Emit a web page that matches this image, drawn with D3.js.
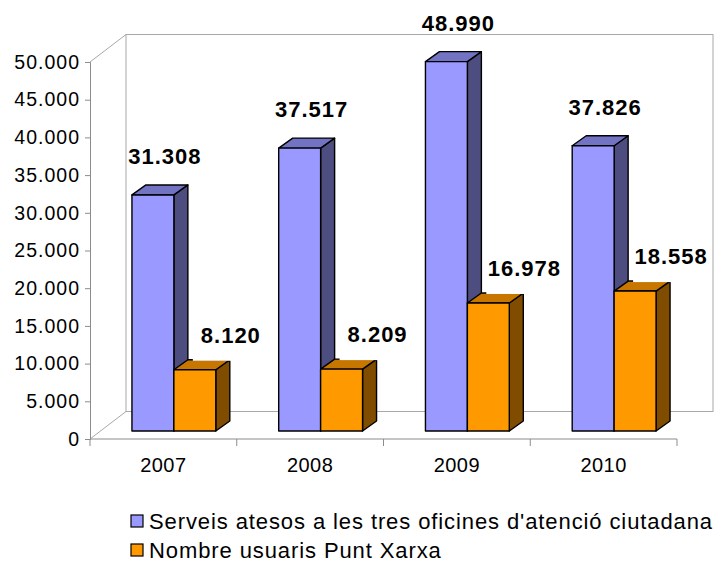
<!DOCTYPE html>
<html>
<head>
<meta charset="utf-8">
<script src="https://cdn.jsdelivr.net/npm/d3@7"></script>
<style>
  html, body { margin: 0; padding: 0; background: #fff; }
  svg { display: block; font-family: "Liberation Sans", Arial, sans-serif; }
</style>
</head>
<body>
<svg id="chart" width="716" height="565"></svg>
<script>
// ---- data ----
const categories = ["2007", "2008", "2009", "2010"];
const serveis = [31308, 37517, 48990, 37826];
const usuaris = [8120, 8209, 16978, 18558];
const seriesNames = [
  "Serveis atesos a les tres oficines d'atenció ciutadana",
  "Nombre usuaris Punt Xarxa"
];
const yTickValues = [0, 5000, 10000, 15000, 20000, 25000, 30000, 35000, 40000, 45000, 50000];

// ---- styling / layout ----
const colors = [
  { front: "#9999FF", top: "#7373C4", side: "#4D4D80" },
  { front: "#FF9900", top: "#C77700", side: "#7F4C00" }
];
const plot = { left: 90, right: 677, top: 62, bottom: 439 };
const depth = { dx: 36, dy: -27.5 };       // back wall offset
const barOff = { dx: 10.5, dy: -8 };       // bar placement depth
const barDepth = { dx: 14, dy: -10 };      // bar thickness in depth
const axisColor = "#8c8c8c";
const wallColor = "#a8a8a8";

const locale = d3.formatLocale({ decimal: ",", thousands: ".", grouping: [3], currency: ["", "€"] });
const fmt = locale.format(",d");

const svg = d3.select("#chart");

const x = d3.scaleBand().domain(categories).range([plot.left, plot.right]).paddingInner(0).paddingOuter(0);
const y = d3.scaleLinear().domain([0, 50000]).range([plot.bottom, plot.top]);
// Each category: 2 bars + gap of 150% of bar width
const bw = x.bandwidth() / 3.5;

// ---- walls ----
const walls = svg.append("g").attr("fill", "none").attr("stroke", wallColor).attr("stroke-width", 1);
walls.append("rect")
  .attr("x", plot.left + depth.dx).attr("y", plot.top + depth.dy)
  .attr("width", plot.right - plot.left).attr("height", plot.bottom - plot.top)
  .attr("fill", "#fff");
walls.append("line")
  .attr("x1", plot.left).attr("y1", plot.top)
  .attr("x2", plot.left + depth.dx).attr("y2", plot.top + depth.dy);
walls.append("line")
  .attr("x1", plot.left).attr("y1", plot.bottom)
  .attr("x2", plot.left + depth.dx).attr("y2", plot.bottom + depth.dy);

// ---- axes ----
const yAxis = d3.axisLeft(y).tickValues(yTickValues).tickFormat(fmt).tickSize(5).tickPadding(5);
const gy = svg.append("g").attr("transform", `translate(${plot.left},0)`).call(yAxis);
gy.select(".domain").attr("stroke", axisColor);
gy.selectAll(".tick line").attr("stroke", axisColor);
gy.selectAll(".tick text")
  .attr("fill", "#000").attr("font-size", "19.5px").attr("letter-spacing", "1px")
  .attr("font-family", "'Liberation Sans', Arial, sans-serif");

const xAxis = d3.axisBottom(x).tickSize(0).tickPadding(19);
const gx = svg.append("g").attr("transform", `translate(0,${plot.bottom})`).call(xAxis);
gx.select(".domain").attr("stroke", axisColor).attr("d", `M${plot.left},0H${plot.right}`);
gx.selectAll(".tick text")
  .attr("fill", "#000").attr("font-size", "20px").attr("letter-spacing", "0.5px")
  .attr("font-family", "'Liberation Sans', Arial, sans-serif");
// category separator ticks
const sepPos = categories.map(c => x(c)).concat([plot.right]);
gx.selectAll("line.sep").data(sepPos).enter().append("line")
  .attr("class", "sep")
  .attr("x1", d => d).attr("x2", d => d)
  .attr("y1", 0).attr("y2", 7)
  .attr("stroke", axisColor);

// ---- bars ----
const series = [serveis, usuaris];
const bars = [];
categories.forEach((cat, i) => {
  series.forEach((vals, s) => {
    const x0 = x(cat) + (x.bandwidth() - 2 * bw) / 2 + s * bw + barOff.dx;
    const yb = y(0) + barOff.dy;
    const yt = y(vals[i]) + barOff.dy;
    bars.push({ cat, s, v: vals[i], x0, yb, yt });
  });
});

const gb = svg.append("g").attr("stroke", "#000").attr("stroke-width", 1.4).attr("stroke-linejoin", "round");
bars.forEach(b => {
  const c = colors[b.s];
  const g = gb.append("g");
  const ddx = barDepth.dx, ddy = barDepth.dy;
  // side
  g.append("path")
    .attr("d", `M${b.x0 + bw},${b.yt}L${b.x0 + bw + ddx},${b.yt + ddy}L${b.x0 + bw + ddx},${b.yb + ddy}L${b.x0 + bw},${b.yb}Z`)
    .attr("fill", c.side);
  // top
  g.append("path")
    .attr("d", `M${b.x0},${b.yt}L${b.x0 + ddx},${b.yt + ddy}L${b.x0 + bw + ddx},${b.yt + ddy}L${b.x0 + bw},${b.yt}Z`)
    .attr("fill", c.top);
  // front
  g.append("rect")
    .attr("x", b.x0).attr("y", b.yt)
    .attr("width", bw).attr("height", b.yb - b.yt)
    .attr("fill", c.front);
});

// ---- data labels ----
const gl = svg.append("g")
  .attr("font-size", "22px").attr("font-weight", "bold").attr("letter-spacing", "1px")
  .attr("text-anchor", "middle").attr("fill", "#000");
bars.forEach(b => {
  const cx = b.x0 + bw / 2 + (b.s === 0 ? 12 : 36);
  const cy = b.yt + (b.s === 0 ? -39 : -35);
  if (b.s === 1) {
    gl.append("rect")
      .attr("x", cx - 38).attr("y", cy - 19)
      .attr("width", 76).attr("height", 45)
      .attr("fill", "#fff");
  }
  gl.append("text")
    .attr("x", cx).attr("y", cy + 8)
    .text(fmt(b.v));
});

// ---- legend ----
const legend = svg.append("g").attr("transform", "translate(131,515)");
seriesNames.forEach((name, s) => {
  const row = legend.append("g").attr("transform", `translate(0,${s * 29})`);
  row.append("rect").attr("x", 0).attr("y", 0).attr("width", 12).attr("height", 12)
    .attr("fill", colors[s].front).attr("stroke", "#000").attr("stroke-width", 1.2);
  row.append("text").attr("x", 18).attr("y", 14)
    .attr("font-size", "22px").attr("letter-spacing", "0.9px").attr("fill", "#000")
    .text(name);
});
</script>
</body>
</html>
